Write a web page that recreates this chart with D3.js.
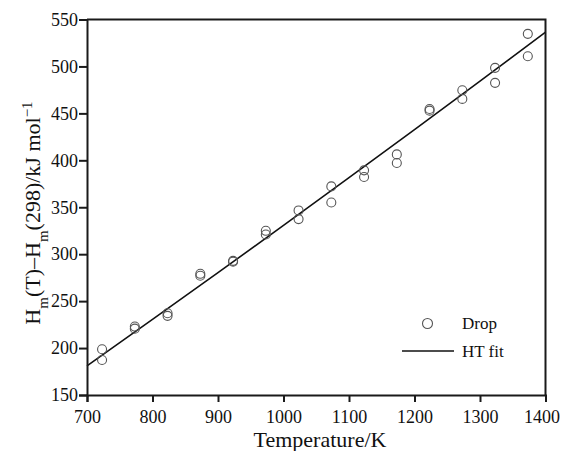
<!DOCTYPE html>
<html>
<head>
<meta charset="utf-8">
<script src="https://cdn.jsdelivr.net/npm/d3@7"></script>
<style>
  body { margin: 0; background: #fff; }
  .chart text { font-family: 'Liberation Serif', 'Times New Roman', serif; fill: #111; }
  .chart .tick text { font-size: 18px; }
</style>
</head>
<body>
<div id="chart"></div>
<script>
// measured points (T in K, enthalpy increment in kJ/mol)
const dropT = [723, 723, 773, 773, 823, 823, 873, 873, 923, 923, 973, 973, 1023, 1023,
  1073, 1073, 1123, 1123, 1173, 1173, 1223, 1223, 1273, 1273, 1323, 1323, 1373, 1373]
const dropH = [198.7, 187.3, 222.9, 220.7, 237.1, 234.3, 279.1, 277, 292.9, 292, 324.9, 321,
  346.6, 337.4, 372.2, 355.1, 389.3, 382.2, 406.3, 397.1, 454.7, 452.9, 474.6, 465.4,
  498.5, 482.5, 534.7, 510.9]

// HT fit curve
const fitT = [700, 800, 900, 1000, 1100, 1200, 1300, 1400]
const fitH = [181, 230.5, 280.3, 330.7, 381.5, 432.7, 484.4, 536.5]

const xTicks = [700, 800, 900, 1000, 1100, 1200, 1300, 1400]
const yTicks = [150, 200, 250, 300, 350, 400, 450, 500, 550]

const width = 562
const height = 451
const margin = { top: 19.5, right: 16.5, bottom: 56, left: 87 }

const x = d3.scaleLinear()
  .domain([700, 1400])
  .range([margin.left, width - margin.right])

const y = d3.scaleLinear()
  .domain([150, 550])
  .range([height - margin.bottom, margin.top])

const svg = d3.select('#chart').append('svg')
  .attr('class', 'chart')
  .attr('width', width)
  .attr('height', height)

// fit line
const line = d3.line()
  .x(d => x(d[0]))
  .y(d => y(d[1]))
  .curve(d3.curveNatural)

svg.append('path')
  .datum(fitT.map((t, i) => [t, fitH[i]]))
  .attr('d', line)
  .attr('fill', 'none')
  .attr('stroke', '#111')
  .attr('stroke-width', 1.6)

// data points
svg.selectAll('.pt').data(dropT)
  .enter().append('circle')
  .attr('class', 'pt')
  .attr('cx', d => x(d))
  .attr('cy', (d, i) => y(dropH[i]))
  .attr('r', 4.5)
  .attr('fill', 'none')
  .attr('stroke', '#555')
  .attr('stroke-width', 1.1)

// axes
const xAxis = svg.append('g')
  .attr('transform', `translate(0,${y(150)})`)
  .call(d3.axisBottom(x).tickValues(xTicks).tickSize(7).tickPadding(8).tickFormat(d3.format('d')))

const yAxis = svg.append('g')
  .attr('transform', `translate(${x(700)},0)`)
  .call(d3.axisLeft(y).tickValues(yTicks).tickSize(8).tickPadding(1).tickFormat(d3.format('d')))

for (const ax of [xAxis, yAxis]) {
  ax.select('.domain').attr('stroke', '#1a1a1a').attr('stroke-width', 2)
  ax.selectAll('.tick line').attr('stroke', '#1a1a1a').attr('stroke-width', 2)
  ax.selectAll('.tick text').attr('fill', '#111')
}
xAxis.selectAll('.tick text').attr('dy', '0.71em')
// last label sits against the page edge in the original
xAxis.selectAll('.tick text').filter(d => d === 1400).attr('x', -4)

// top and right frame
svg.append('path')
  .attr('d', `M${x(700)},${y(550)}H${x(1400)}V${y(150)}`)
  .attr('fill', 'none')
  .attr('stroke', '#1a1a1a')
  .attr('stroke-width', 2)

// axis titles
svg.append('text')
  .attr('x', 320)
  .attr('y', 447)
  .attr('text-anchor', 'middle')
  .style('font-size', '22px')
  .text('Temperature/K')

const yt = svg.append('text')
  .attr('transform', 'translate(40,213) rotate(-90)')
  .attr('text-anchor', 'middle')
  .style('font-size', '22px')
yt.append('tspan').text('H')
yt.append('tspan').attr('baseline-shift', 'sub').style('font-size', '15px').text('m')
yt.append('tspan').text('(T)\u2013H')
yt.append('tspan').attr('baseline-shift', 'sub').style('font-size', '15px').text('m')
yt.append('tspan').text('(298)/kJ mol')
yt.append('tspan').attr('baseline-shift', 'super').style('font-size', '15px').text('\u22121')

// legend
const lg = svg.append('g')
lg.append('circle')
  .attr('cx', 427.5).attr('cy', 323.5).attr('r', 5)
  .attr('fill', 'none').attr('stroke', '#555').attr('stroke-width', 1.1)
lg.append('text')
  .attr('x', 462).attr('y', 329)
  .style('font-size', '17px')
  .text('Drop')
lg.append('line')
  .attr('x1', 402).attr('x2', 454).attr('y1', 351).attr('y2', 351)
  .attr('stroke', '#111').attr('stroke-width', 1.6)
lg.append('text')
  .attr('x', 462).attr('y', 357)
  .style('font-size', '17px')
  .text('HT fit')
</script>
</body>
</html>
